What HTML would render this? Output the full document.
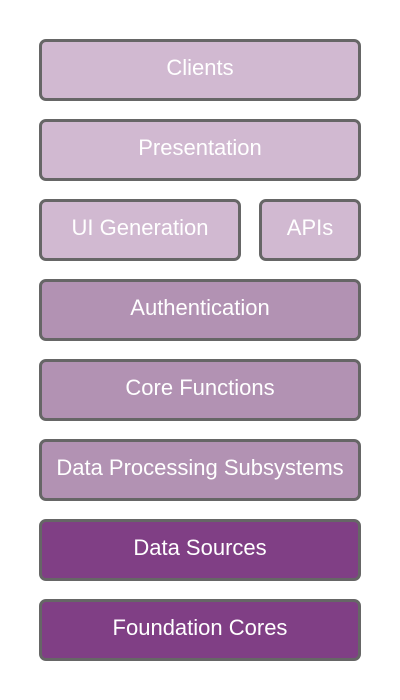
<!DOCTYPE html>
<html><head><style>
body{margin:0;width:400px;height:700px;background:#fff;position:relative;font-family:"Liberation Sans",sans-serif}
.b{position:absolute;box-sizing:border-box;height:62px;border:3px solid #666;border-radius:7px;color:#fff;font-size:22px;display:flex;align-items:center;justify-content:center;padding-bottom:4px}
.l{background:#d1b9d1}.m{background:#b292b3}.d{background:#803f85}
</style></head><body>
<div class="b l" style="left:39px;top:39px;width:322px">Clients</div>
<div class="b l" style="left:39px;top:119px;width:322px">Presentation</div>
<div class="b l" style="left:39px;top:199px;width:202px">UI Generation</div>
<div class="b l" style="left:259px;top:199px;width:102px">APIs</div>
<div class="b m" style="left:39px;top:279px;width:322px">Authentication</div>
<div class="b m" style="left:39px;top:359px;width:322px">Core Functions</div>
<div class="b m" style="left:39px;top:439px;width:322px">Data Processing Subsystems</div>
<div class="b d" style="left:39px;top:519px;width:322px">Data Sources</div>
<div class="b d" style="left:39px;top:599px;width:322px">Foundation Cores</div>
</body></html>
